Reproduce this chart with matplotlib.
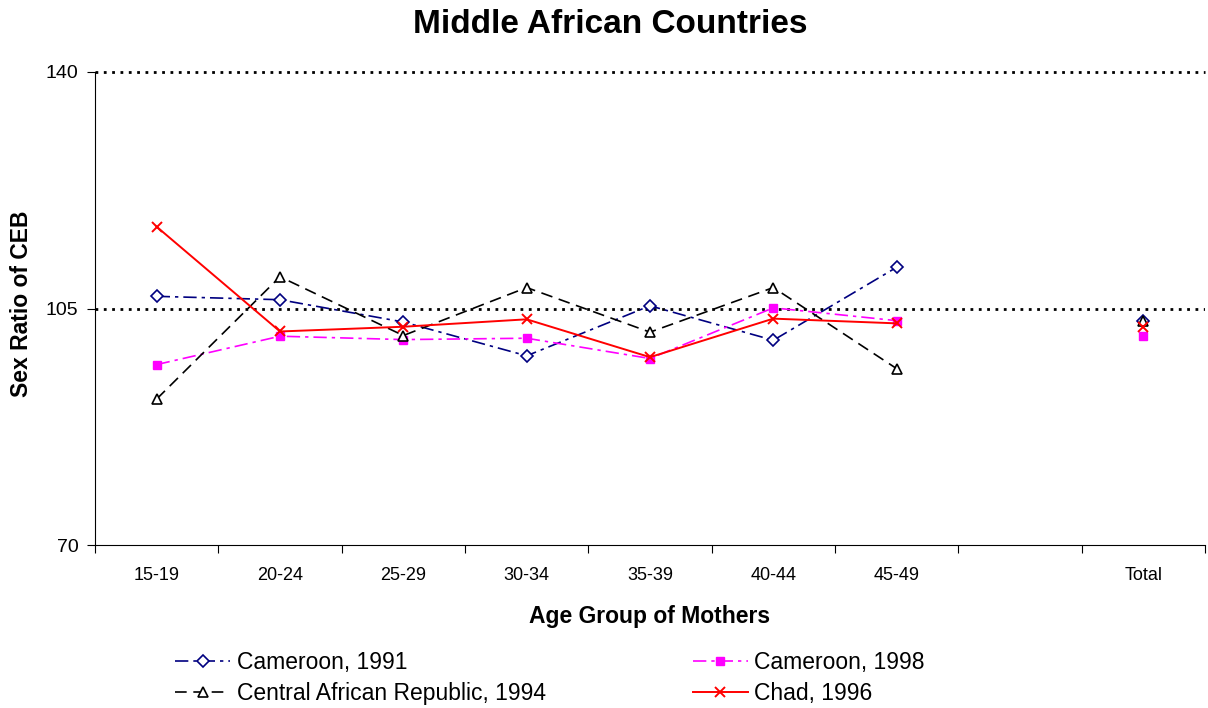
import matplotlib
matplotlib.use("Agg")
import matplotlib.pyplot as plt
import numpy as np

plt.rcParams['font.family'] = ['Liberation Sans', 'DejaVu Sans']

categories = ["15-19", "20-24", "25-29", "30-34", "35-39", "40-44", "45-49", "", "Total"]
cameroon_1991 = [106.8, 106.3, 103.0, 98.0, 105.4, 100.3, 111.1, np.nan, 103.2]
cameroon_1998 = [96.7, 100.9, 100.4, 100.6, 97.6, 105.1, 103.2, np.nan, 101.0]
car_1994 = [91.6, 109.7, 101.0, 108.1, 101.5, 108.1, 96.1, np.nan, 103.2]
chad_1996 = [117.1, 101.6, 102.3, 103.4, 97.8, 103.5, 102.8, np.nan, 102.2]

fig = plt.figure(figsize=(12.08, 7.08), dpi=100)
ax = fig.add_axes([95/1208, 1-545/708, 1110/1208, 473/708])

x = np.arange(len(categories))

ax.axhline(105, color='black', linestyle=(0, (1, 2)), linewidth=2, zorder=1)
ax.axhline(140, color='black', linestyle=(0, (1, 2)), linewidth=2, zorder=1, clip_on=False)

h1, = ax.plot(x, cameroon_1991, color='#000080', linestyle=(0, (8, 3, 2, 3)), linewidth=1.2,
              marker='D', markersize=6, markerfacecolor='white', markeredgecolor='#000080',
              markeredgewidth=1.2, label='Cameroon, 1991', zorder=3)
h2, = ax.plot(x, cameroon_1998, color='#FF00FF', linestyle=(0, (8, 3, 2, 3)), linewidth=1.2,
              marker='s', markersize=6, markerfacecolor='#FF00FF', markeredgecolor='#FF00FF',
              label='Cameroon, 1998', zorder=3)
h3, = ax.plot(x, car_1994, color='black', linestyle=(0, (7, 4)), linewidth=1.2,
              marker='^', markersize=7, markerfacecolor='white', markeredgecolor='black',
              markeredgewidth=1.2, label='Central African Republic, 1994', zorder=3)
h4, = ax.plot(x, chad_1996, color='#FF0000', linestyle='-', linewidth=1.4,
              marker='x', markersize=7, markeredgewidth=1.4,
              label='Chad, 1996', zorder=4)

ax.set_xlim(-0.5, len(categories) - 0.5)
ax.set_ylim(70, 140)
ax.set_yticks([70, 105, 140])
ax.tick_params(axis='y', labelsize=14, direction='out', length=6, pad=6)

ax.set_xticks(np.arange(-0.5, len(categories)), labels=[])
ax.set_xticks(x, labels=categories, minor=True)
ax.tick_params(axis='x', which='major', direction='out', length=6)
ax.tick_params(axis='x', which='minor', length=0, labelsize=13, pad=16)

for s in ['top', 'right']:
    ax.spines[s].set_visible(False)

ax.set_xlabel('Age Group of Mothers', fontsize=16.5, fontweight='bold', labelpad=15)
fig.text(22/1208, 1-304/708, 'Sex Ratio of CEB', rotation=90, ha='center', va='center',
         fontsize=16.5, fontweight='bold')
fig.text(0.505, 0.965, 'Middle African Countries', ha='center', va='center',
         fontsize=24, fontweight='bold')

fig.legend(handles=[h1, h3, h2, h4], ncol=2, loc='upper left',
           bbox_to_anchor=(175/1208, 1-651/708), frameon=False, fontsize=16.5,
           handlelength=2.4, handletextpad=0.3, columnspacing=6.4,
           labelspacing=0.37, borderaxespad=0, borderpad=0)

fig.savefig('out.png', dpi=100)
